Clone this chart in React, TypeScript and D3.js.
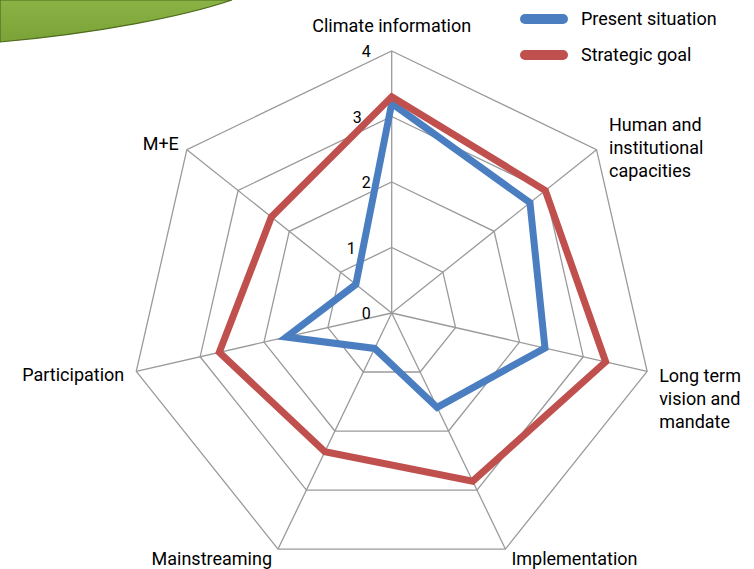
import React from "react";
import * as d3 from "d3";

const categories = [
  "Climate information",
  "Human and\ninstitutional\ncapacities",
  "Long term\nvision and\nmandate",
  "Implementation",
  "Mainstreaming",
  "Participation",
  "M+E",
];
const presentSituation = [3.2, 2.7, 2.4, 1.6, 0.6, 1.65, 0.7];
const strategicGoal = [3.3, 3.0, 3.35, 2.85, 2.35, 2.7, 2.35];
const tickValues = [0, 1, 2, 3, 4];
const seriesNames = ["Present situation", "Strategic goal"];

const W = 754;
const H = 569;
const cx = 391.7;
const cy = 313;
const R = 262;
const FONT = "Roboto, 'Open Sans', sans-serif";
const COLORS = ["#4A7EC0", "#C0504D"];

// label placement styles (offset from outer vertex)
const labelStyle = [
  { dx: 0, dy: -19, anchor: "middle" },
  { dx: 12.5, dy: -18.6, anchor: "start" },
  { dx: 12, dy: 10.4, anchor: "start" },
  { dx: 6, dy: 16, anchor: "start" },
  { dx: -6, dy: 16, anchor: "end" },
  { dx: -12, dy: 9.7, anchor: "end" },
  { dx: -8, dy: 0, anchor: "end" },
];
const tickDx = [0, -15, 0, -9, 0];

export default function App() {
  const r = d3.scaleLinear().domain([0, 4]).range([0, R]);
  const n = categories.length;
  const angle = d3
    .scaleLinear()
    .domain([0, n])
    .range([0, 2 * Math.PI]);
  const pt = (i: number, v: number): [number, number] => {
    const a = angle(i);
    return [cx + r(v) * Math.sin(a), cy - r(v) * Math.cos(a)];
  };
  const idx = d3.range(n);
  const closed = d3.line<[number, number]>().curve(d3.curveLinearClosed);

  const series = [presentSituation, strategicGoal];

  return (
    <svg
      width={W}
      height={H}
      style={{ position: "absolute", left: 0, top: 0, background: "#fff" }}
      fontFamily={FONT}
    >
      <defs>
        <linearGradient id="grn" x1="0" y1="0" x2="0" y2="1">
          <stop offset="0" stopColor="#8AB346" />
          <stop offset="1" stopColor="#7AA236" />
        </linearGradient>
      </defs>
      <path
        d="M0,0 H232 C185,16 100,33 0,42 Z"
        fill="url(#grn)"
        stroke="#4E6B1E"
        strokeWidth={1.2}
      />
      {/* grid rings */}
      {tickValues
        .filter((t) => t > 0)
        .map((t) => (
          <path
            key={t}
            d={closed(idx.map((i) => pt(i, t))) || ""}
            fill="none"
            stroke="#9A9A9A"
            strokeWidth={1.3}
          />
        ))}
      {/* spokes */}
      {idx.map((i) => {
        const [x, y] = pt(i, 4);
        return (
          <line
            key={i}
            x1={cx}
            y1={cy}
            x2={x}
            y2={y}
            stroke="#9A9A9A"
            strokeWidth={1.3}
          />
        );
      })}
      {/* series */}
      {series.map((s, si) => (
        <path
          key={si}
          d={closed(s.map((v, i) => pt(i, v))) || ""}
          fill="none"
          stroke={COLORS[si]}
          strokeWidth={7}
          strokeLinejoin="miter"
          strokeMiterlimit={10}
        />
      ))}
      {/* tick labels */}
      {tickValues.map((t, k) => (
        <text
          key={t}
          x={cx - 21 + tickDx[k]}
          y={cy - r(t) + 2}
          textAnchor="end"
          dominantBaseline="middle"
          fontSize={16}
          fill="#000"
        >
          {t}
        </text>
      ))}
      {/* axis labels */}
      {categories.map((c, i) => {
        const [x, y] = pt(i, 4);
        const st = labelStyle[i];
        const lines = c.split("\n");
        return (
          <text
            key={i}
            x={x + st.dx}
            y={y + st.dy}
            textAnchor={st.anchor as any}
            fontSize={18}
            fill="#000"
          >
            {lines.map((l, j) => (
              <tspan key={j} x={x + st.dx} dy={j === 0 ? 0 : 23}>
                {l}
              </tspan>
            ))}
          </text>
        );
      })}
      {/* legend */}
      {seriesNames.map((name, si) => (
        <g key={name} transform={`translate(0, ${19 + si * 36})`}>
          <line
            x1={525}
            x2={563}
            y1={0}
            y2={0}
            stroke={COLORS[si]}
            strokeWidth={10}
            strokeLinecap="round"
          />
          <text x={581} y={6} fontSize={18} fill="#000">
            {name}
          </text>
        </g>
      ))}
    </svg>
  );
}
